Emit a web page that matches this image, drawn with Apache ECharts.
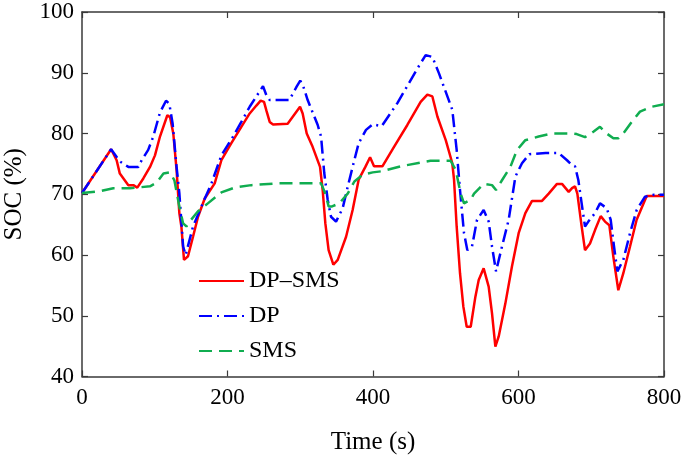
<!DOCTYPE html>
<html>
<head>
<meta charset="utf-8">
<script src="https://cdn.jsdelivr.net/npm/echarts@6/dist/echarts.min.js"></script>
<style>
html,body{margin:0;padding:0;background:#fff;}
#chart{width:685px;height:461px;}
</style>
</head>
<body>
<div id="chart"></div>
<script>
// ---- Data ----
var xTicks = [0, 200, 400, 600, 800];
var yTicks = [40, 50, 60, 70, 80, 90, 100];

var dpSmsTime = [0, 40, 47.6, 52, 63.7, 70.6, 76, 84.3, 93.5, 100.3, 107.2, 117.3, 121, 125.5, 130, 133.8, 136.6, 140.2, 145.7, 152.6, 159.5, 168.7, 182.4, 191.6, 205.3, 219, 230.5, 239.7, 245.6, 250.2, 253.4, 258, 262.6, 282.7, 299.7, 303.3, 308.9, 317, 327.2, 330.8, 334.5, 339, 345.5, 351.5, 363, 372, 380.3, 389.5, 396, 401.4, 412.9, 428.9, 447.2, 465.5, 474.7, 481.6, 488.5, 500, 509, 511.4, 515, 519.6, 524.2, 528.8, 534.3, 540.7, 545.3, 552.1, 559, 563.6, 568.2, 572.8, 581.9, 591, 600.2, 609.4, 618.6, 632.3, 641.5, 652.9, 659.8, 669, 673.6, 677.7, 680.9, 686.8, 691.4, 698.3, 705.2, 713, 718.9, 724.9, 730.4, 737.2, 744.1, 753.3, 762.4, 776.2, 800];
var dpSmsSoc  = [70.2, 77.4, 75.6, 73.4, 71.5, 71.5, 71.1, 72.6, 74.5, 76.4, 79.5, 83.0, 82.7, 80, 74, 66.9, 64.7, 59.2, 59.8, 63, 66.3, 69.3, 71.8, 75.6, 78.4, 81.1, 83.3, 84.6, 85.4, 85.2, 83.8, 81.9, 81.5, 81.6, 84.4, 83.3, 80, 77.8, 74.5, 70.7, 65.2, 60.8, 58.4, 59.2, 63, 67.4, 72.4, 74.5, 76.1, 74.6, 74.6, 77.8, 81.4, 85.2, 86.4, 86.1, 82.8, 78.9, 75.1, 72.4, 64.7, 57, 51.5, 48.2, 48.2, 53.1, 55.9, 57.8, 54.8, 50.4, 44.9, 46.6, 52, 58.1, 63.6, 66.9, 68.9, 68.9, 70.1, 71.7, 71.7, 70.4, 71, 71.3, 70.1, 64.7, 60.8, 61.9, 64.1, 66.4, 65.5, 64.9, 59.7, 54.2, 57, 61.4, 65.8, 69.7, 69.7];

var dpTime = [0, 40, 52, 63.7, 77.4, 82, 91, 98, 107, 115.5, 120, 124.6, 130, 133.8, 139, 142.5, 152.6, 166, 178, 191.6, 207.6, 219, 230.5, 239.7, 248.8, 253.4, 258, 285, 295, 300, 304.3, 310.2, 324, 328.6, 333, 337.7, 342.3, 349.2, 358.3, 365.2, 372, 380.3, 390.4, 399.6, 412, 433.5, 461, 472.4, 481.6, 490.7, 509, 515, 519.6, 525.1, 529.7, 536.1, 543, 552.1, 559, 563.6, 569.1, 577.3, 586.5, 595.7, 604.8, 614.9, 637.3, 655.2, 666.7, 673.6, 677.7, 682.3, 686.8, 691.4, 696, 705.2, 712, 721.2, 726.7, 731.3, 735.9, 744.1, 753.3, 762.4, 773.9, 785.4, 800];
var dpSoc  = [70.2, 77.4, 75.4, 74.5, 74.5, 75.6, 77.3, 79.5, 83.4, 85.4, 84.9, 81.6, 74.5, 70.2, 61.4, 60, 64.7, 68.5, 71.8, 76.4, 79.5, 81.9, 84.4, 86.1, 87.8, 86.3, 85.5, 85.5, 87.7, 88.7, 87.7, 85.5, 81.4, 79.5, 73.5, 69.1, 66.3, 65.5, 67.7, 71.2, 74.5, 78.4, 80.6, 81.5, 81.2, 85, 90.7, 92.9, 92.6, 89.9, 83.9, 77.3, 70.7, 63.6, 60.8, 61.4, 65.8, 67.4, 65.5, 61.4, 57.3, 61.4, 65.8, 72.9, 75.1, 76.6, 76.8, 76.8, 75.6, 74.8, 74.6, 72.3, 68.5, 64.7, 65.5, 66.9, 68.5, 67.7, 65.8, 61.4, 57.3, 59.2, 63.6, 67.4, 69.6, 69.9, 69.9];

var smsTime = [0, 24.7, 43, 66, 93.5, 102.6, 112, 121, 127, 133.8, 139, 143.5, 150, 159.5, 173, 191.6, 210, 232.8, 269.5, 285, 328.6, 334.5, 339, 343.7, 353.8, 365.2, 374.4, 385.8, 399.6, 412.9, 438, 479, 506.8, 513.7, 520.5, 525.1, 534.3, 538.9, 552.1, 563.6, 569.1, 577.3, 588.8, 598, 609.4, 627.7, 646, 673.6, 680, 691.4, 702.9, 712, 721.2, 730.4, 737.2, 744.1, 755.6, 767, 783, 800];
var smsSoc  = [70.2, 70.5, 71, 71, 71.3, 71.9, 73.4, 73.6, 72.3, 68, 65.2, 64.7, 65.8, 67.2, 68.5, 70.3, 71.1, 71.5, 71.8, 71.8, 71.8, 70.1, 68, 68, 68.5, 70.1, 72.1, 73.2, 73.6, 73.8, 74.6, 75.5, 75.5, 74, 70.1, 68.5, 69.1, 70.1, 71.7, 71.5, 70.7, 72.3, 74.5, 77.3, 78.9, 79.5, 80, 80, 79.9, 79.4, 80.3, 81.1, 80, 79.2, 79.2, 80, 81.9, 83.6, 84.4, 84.8];

var seriesNames = ['DP\u2013SMS', 'DP', 'SMS'];

function pairs(t, v) { return t.map(function (x, i) { return [x, v[i]]; }); }

var FONT = "'Liberation Serif', 'Times New Roman', Times, serif";
var AXIS_COLOR = '#3a3a3a';

var chart = echarts.init(document.getElementById('chart'), null, { renderer: 'canvas' });

var baseX = {
  type: 'value', min: xTicks[0], max: xTicks[xTicks.length - 1], interval: 200,
  splitLine: { show: false },
  axisLine: { show: true, onZero: false, lineStyle: { color: AXIS_COLOR, width: 1.5 } },
  axisTick: { show: true, inside: true, length: 6, lineStyle: { color: AXIS_COLOR, width: 1.2 } }
};
var baseY = {
  type: 'value', min: yTicks[0], max: yTicks[yTicks.length - 1], interval: 10,
  splitLine: { show: false },
  axisLine: { show: true, onZero: false, lineStyle: { color: AXIS_COLOR, width: 1.5 } },
  axisTick: { show: true, inside: true, length: 6, lineStyle: { color: AXIS_COLOR, width: 1.2 } }
};

chart.setOption({
  animation: false,
  backgroundColor: '#ffffff',
  grid: { left: 82, right: 21, top: 12, bottom: 84.5, containLabel: false, outerBoundsMode: 'none' },
  legend: {
    orient: 'vertical', left: 193, top: 264,
    itemWidth: 45, itemHeight: 14, itemGap: 11,
    itemStyle: { opacity: 0 },
    textStyle: { fontFamily: FONT, fontSize: 24, color: '#000' },
    data: seriesNames
  },
  xAxis: [
    Object.assign({}, baseX, {
      position: 'bottom',
      name: 'Time (s)', nameLocation: 'middle', nameGap: 53,
      nameTextStyle: { fontFamily: FONT, fontSize: 25, color: '#000' },
      axisLabel: { show: true, margin: 10, fontFamily: FONT, fontSize: 23, color: '#000' }
    }),
    Object.assign({}, baseX, { position: 'top', axisLabel: { show: false } })
  ],
  yAxis: [
    Object.assign({}, baseY, {
      position: 'left',
      name: 'SOC (%)', nameLocation: 'middle', nameGap: 55, nameRotate: 90,
      nameTextStyle: { fontFamily: FONT, fontSize: 25, color: '#000' },
      axisLabel: { show: true, margin: 8, fontFamily: FONT, fontSize: 23, color: '#000' }
    }),
    Object.assign({}, baseY, { position: 'right', axisLabel: { show: false } })
  ],
  series: [
    {
      name: seriesNames[0], type: 'line', xAxisIndex: 0, yAxisIndex: 0,
      data: pairs(dpSmsTime, dpSmsSoc), symbol: 'none', smooth: false,
      lineStyle: { color: '#ff0000', width: 2.5, type: 'solid' },
      itemStyle: { color: '#ff0000' }
    },
    {
      name: seriesNames[1], type: 'line', xAxisIndex: 0, yAxisIndex: 0,
      data: pairs(dpTime, dpSoc), symbol: 'none', smooth: false,
      lineStyle: { color: '#0000ff', width: 2.5, type: [13, 5, 2, 5] },
      itemStyle: { color: '#0000ff' }
    },
    {
      name: seriesNames[2], type: 'line', xAxisIndex: 0, yAxisIndex: 0,
      data: pairs(smsTime, smsSoc), symbol: 'none', smooth: false,
      lineStyle: { color: '#10ad50', width: 2.5, type: [13, 7] },
      itemStyle: { color: '#10ad50' }
    }
  ]
});
</script>
</body>
</html>
